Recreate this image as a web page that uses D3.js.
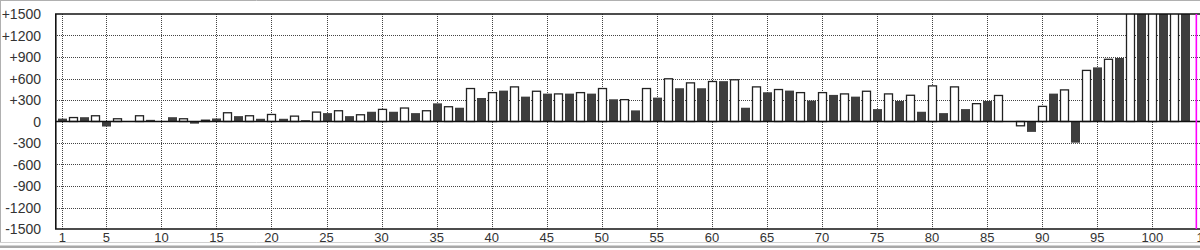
<!DOCTYPE html>
<html lang="en">
<head>
    <meta charset="UTF-8">
    <script src="https://d3js.org/d3.v7.min.js"></script>
    <style>
        body { margin: 0; background: #fff; }
        svg { display: block; }
        text { font-family: "Liberation Sans", Arial, sans-serif; fill: #333; }
    </style>
</head>
<body>
    <script>
        // values, one per day (odd days dark, even days white)
        const values = [
            40, 55, 60, 80, -70, 38, 0, 80, 23, 0,
            60, 38, -30, 18, 42, 122, 75, 80, 38, 98,
            38, 75, 19, 131, 117, 150, 75, 94, 136, 169,
            136, 188, 117, 150, 253, 206, 192, 460, 328, 403,
            431, 483, 347, 422, 389, 385, 389, 403, 389, 460,
            310, 305, 155, 460, 333, 596, 464, 539, 464, 558,
            563, 582, 192, 483, 408, 446, 431, 403, 291, 403,
            371, 385, 347, 422, 173, 385, 286, 366, 136, 497,
            117, 483, 173, 249, 286, 363, 0, -60, -145, 211,
            389, 441, -295, 713, 755, 868, 886, 1900, 2000, 2200,
            2300, 2500, 2600
        ];
        const xTicks = [1, 5, 10, 15, 20, 25, 30, 35, 40, 45, 50, 55, 60, 65, 70, 75, 80, 85, 90, 95, 100, 105];
        const yTicks = [1500, 1200, 900, 600, 300, 0, -300, -600, -900, -1200, -1500];
        const markerDay = 104;

        const w = 1200;
        const h = 250;
        const padLeft = 55, padTop = 14, plotBottom = 229;
        const barW = 8;

        const svg = d3.select("body").append("svg")
            .attr("width", w)
            .attr("height", h);

        const x = d3.scaleLinear().domain([1, 100]).range([62.3, 1152.3]);
        const y = d3.scaleLinear().domain([-1500, 1500]).range([plotBottom, padTop]);

        // window frame lines
        svg.append("line").attr("x1", 0).attr("x2", w).attr("y1", 0.5).attr("y2", 0.5)
            .attr("stroke", "#b0b0b0");
        svg.append("line").attr("x1", 0.5).attr("x2", 0.5).attr("y1", 0).attr("y2", 243)
            .attr("stroke", "#b0b0b0");
        svg.append("line").attr("x1", 0).attr("x2", w).attr("y1", 242.5).attr("y2", 242.5)
            .attr("stroke", "#d0d0d0");
        svg.append("rect").attr("x", 0).attr("y", 245.5).attr("width", w).attr("height", 2.5)
            .attr("fill", "#a8a8a8");

        svg.append("clipPath").attr("id", "plot")
            .append("rect").attr("x", padLeft).attr("y", padTop)
            .attr("width", w - padLeft).attr("height", plotBottom - padTop);

        const grid = svg.append("g").attr("clip-path", "url(#plot)");

        // horizontal grid
        grid.selectAll(".hg")
            .data(yTicks.filter(d => Math.abs(d) < 1500 && d !== 0))
            .enter().append("line")
            .attr("x1", padLeft).attr("x2", w)
            .attr("y1", d => Math.round(y(d)) + 0.5)
            .attr("y2", d => Math.round(y(d)) + 0.5)
            .attr("stroke", "#444")
            .attr("stroke-dasharray", "1,1");

        // vertical grid
        grid.selectAll(".vg")
            .data(xTicks)
            .enter().append("line")
            .attr("x1", d => Math.round(x(d)) + 0.5)
            .attr("x2", d => Math.round(x(d)) + 0.5)
            .attr("y1", padTop).attr("y2", plotBottom)
            .attr("stroke", "#444")
            .attr("stroke-dasharray", "1,1");

        // bars
        const bars = svg.append("g").attr("clip-path", "url(#plot)");
        bars.selectAll("rect")
            .data(values.map((v, i) => ({day: i + 1, v: v})).filter(d => d.v !== 0))
            .enter().append("rect")
            .attr("x", d => Math.round(x(d.day) - barW / 2) + (d.day % 2 ? 0 : 0.5))
            .attr("width", d => d.day % 2 ? barW + 1 : barW)
            .attr("y", d => y(Math.max(0, d.v)))
            .attr("height", d => Math.abs(y(d.v) - y(0)))
            .attr("fill", d => d.day % 2 ? "#3e3e3e" : "#fff")
            .attr("stroke", d => d.day % 2 ? "none" : "#222")
            .attr("stroke-width", 1.3);

        // zero line
        svg.append("line")
            .attr("x1", padLeft).attr("x2", w)
            .attr("y1", y(0)).attr("y2", y(0))
            .attr("stroke", "#111").attr("stroke-width", 1.6);

        // plot frame
        svg.append("line").attr("x1", padLeft).attr("x2", w).attr("y1", padTop).attr("y2", padTop)
            .attr("stroke", "#111").attr("stroke-width", 1.6);
        svg.append("line").attr("x1", padLeft).attr("x2", w).attr("y1", plotBottom).attr("y2", plotBottom)
            .attr("stroke", "#111").attr("stroke-width", 1.6);
        svg.append("line").attr("x1", padLeft + 0.8).attr("x2", padLeft + 0.8)
            .attr("y1", padTop).attr("y2", plotBottom)
            .attr("stroke", "#111").attr("stroke-width", 1.6);

        // current day marker
        svg.append("line")
            .attr("x1", x(markerDay)).attr("x2", x(markerDay))
            .attr("y1", padTop).attr("y2", plotBottom)
            .attr("stroke", "#ff00ff").attr("stroke-width", 1.6);

        // y labels
        svg.selectAll(".yl")
            .data(yTicks)
            .enter().append("text")
            .attr("x", 41)
            .attr("y", d => y(d))
            .attr("dy", "0.36em")
            .attr("text-anchor", "end")
            .attr("font-size", 14)
            .text(d => d > 0 ? "+" + d : String(d));

        // x labels
        svg.selectAll(".xl")
            .data(xTicks)
            .enter().append("text")
            .attr("x", d => x(d))
            .attr("y", 241.5)
            .attr("text-anchor", "middle")
            .attr("font-size", 13)
            .text(d => d);
    </script>
</body>
</html>
